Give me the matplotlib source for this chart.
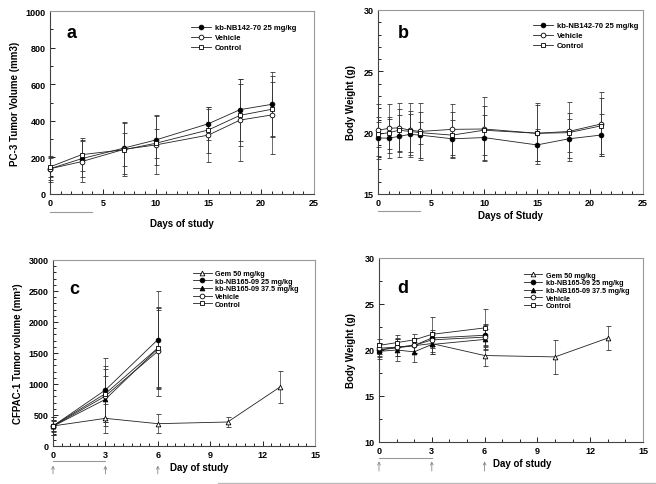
"""Tumor volume and body weight panels (a-d)"""
import matplotlib
matplotlib.use('Agg')
import matplotlib.pyplot as plt
import matplotlib.transforms as mtransforms
from matplotlib.lines import Line2D
from matplotlib.ticker import MultipleLocator

plt.rcParams['font.family'] = ['Liberation Sans', 'DejaVu Sans']
plt.rcParams['font.weight'] = 'bold'

"Panel a - PC-3 tumor volume"
days_a = [0, 3, 7, 10, 15, 18, 21]
a_drug = [138, 193, 251, 295, 384, 461, 490]
a_drug_err = [60, 100, 140, 135, 90, 170, 175]
a_veh = [138, 177, 244, 268, 322, 404, 432]
a_veh_err = [70, 110, 145, 160, 145, 225, 215]
a_ctrl = [148, 215, 242, 277, 350, 430, 463]
a_ctrl_err = [55, 90, 90, 80, 125, 170, 150]

"Panel b - body weight"
days_b = [0, 1, 2, 3, 4, 7, 10, 15, 18, 21]
b_drug = [19.57, 19.55, 19.7, 19.86, 19.8, 19.5, 19.6, 19.0, 19.5, 19.8]
b_drug_err = [1.7, 1.6, 1.7, 1.7, 1.9, 1.5, 1.8, 1.3, 1.6, 1.7]
b_veh = [20.2, 20.35, 20.4, 20.2, 20.1, 20.27, 20.3, 19.95, 20.1, 20.7]
b_veh_err = [2.1, 2.0, 2.0, 2.2, 2.3, 2.1, 2.6, 2.3, 2.4, 2.6]
b_ctrl = [19.86, 20.0, 20.2, 20.1, 20.0, 19.8, 20.2, 19.95, 20.0, 20.55]
b_ctrl_err = [1.0, 1.3, 1.7, 1.7, 0.9, 1.9, 2.0, 2.5, 1.6, 2.3]

"Panel c - CFPAC-1 tumor volume"
days_gem = [0, 3, 6, 10, 13]
c_gem = [323, 446, 360, 387, 952]
c_gem_err = [150, 230, 150, 85, 265]
days_c = [0, 3, 6]
c_25 = [323, 903, 1715]
c_25_err = [150, 520, 790]
c_375 = [318, 753, 1570]
c_375_err = [80, 370, 620]
c_veh = [320, 806, 1527]
c_veh_err = [100, 480, 720]
c_ctrl = [325, 844, 1580]
c_ctrl_err = [90, 400, 650]

"Panel d - body weight"
d_gem = [20.0, 20.7, 19.4, 19.25, 21.3]
d_gem_err = [0.7, 1.1, 1.1, 1.85, 1.3]
days_d = [0, 1, 2, 3, 6]
d_25 = [20.0, 20.3, 20.5, 21.3, 21.6]
d_25_err = [0.8, 1.0, 0.8, 0.9, 1.2]
d_375 = [19.85, 20.0, 19.8, 20.6, 21.15]
d_375_err = [0.8, 1.2, 1.1, 1.0, 1.1]
d_veh = [20.2, 20.3, 20.5, 21.1, 21.4]
d_veh_err = [0.6, 0.9, 0.8, 0.9, 1.3]
d_ctrl = [20.5, 20.8, 21.1, 21.7, 22.4]
d_ctrl_err = [0.7, 0.8, 0.6, 1.9, 2.1]

labels_ab = ['kb-NB142-70 25 mg/kg', 'Vehicle', 'Control']
labels_cd = ['Gem 50 mg/kg', 'kb-NB165-09 25 mg/kg', 'kb-NB165-09 37.5 mg/kg', 'Vehicle', 'Control']

W, H = 656, 485
fig = plt.figure(figsize=(W / 100, H / 100), dpi=100)


def make_ax(left, right, top, bottom):
    return fig.add_axes([left / W, 1 - bottom / H, (right - left) / W, (bottom - top) / H])


def mstyle(marker, filled):
    return dict(color='#222222', lw=0.6, marker=marker, ms=3.4 if marker != 's' else 3.2,
                mfc='black' if filled else 'white', mec='black', mew=0.6)


def series(ax, x, y, e, marker, filled, handles, label):
    ax.errorbar(x, y, yerr=e, elinewidth=0.5, capsize=1.8, capthick=0.5, ecolor='#333333',
                clip_on=False, zorder=3, **mstyle(marker, filled))
    handles.append(Line2D([], [], label=label, **mstyle(marker, filled)))


def style(ax, xmax, xmaj, xmin, ylo, yhi, ymaj, ymin):
    ax.set_xlim(0, xmax)
    ax.set_ylim(ylo, yhi)
    ax.xaxis.set_major_locator(MultipleLocator(xmaj))
    ax.xaxis.set_minor_locator(MultipleLocator(xmin))
    ax.yaxis.set_major_locator(MultipleLocator(ymaj))
    ax.yaxis.set_minor_locator(MultipleLocator(ymin))
    ax.tick_params(which='both', direction='in', labelsize=6.5, width=0.6, pad=3)
    ax.tick_params(which='major', length=3.5)
    ax.tick_params(which='minor', length=2)
    for t in ax.get_xticklabels() + ax.get_yticklabels():
        t.set_fontweight('bold')
    for s in ['left', 'bottom']:
        ax.spines[s].set_color('#444444')
        ax.spines[s].set_linewidth(0.8)
    for s in ['top', 'right']:
        ax.spines[s].set_color('#999999')
        ax.spines[s].set_linewidth(0.8)


def under_line(ax, x0, x1, yfrac):
    tr = mtransforms.blended_transform_factory(ax.transData, ax.transAxes)
    ax.plot([x0, x1], [yfrac, yfrac], transform=tr, color='#999999', lw=0.8, clip_on=False)


def arrows(ax, xs, y0, y1):
    tr = mtransforms.blended_transform_factory(ax.transData, ax.transAxes)
    for x in xs:
        ax.annotate('', xy=(x, y1), xytext=(x, y0), xycoords=tr, textcoords=tr,
                    arrowprops=dict(arrowstyle='->', lw=0.6, color='#888888',
                                    shrinkA=0, shrinkB=0, mutation_scale=5))


# ---------------- a ----------------
ax = make_ax(50, 314, 12, 195)
h = []
series(ax, days_a, a_drug, a_drug_err, 'o', True, h, labels_ab[0])
series(ax, days_a, a_veh, a_veh_err, 'o', False, h, labels_ab[1])
series(ax, days_a, a_ctrl, a_ctrl_err, 's', False, h, labels_ab[2])
style(ax, 25, 5, 1, 0, 1000, 200, 100)
ax.set_ylabel('PC-3 Tumor Volume (mm3)', fontsize=7, fontweight='bold', labelpad=4)
ax.set_xlabel('Days of study', fontsize=7, fontweight='bold', labelpad=8)
ax.text(0.083, 0.885, 'a', transform=ax.transAxes, fontsize=13, fontweight='bold', va='center', ha='center')
ax.legend(handles=h, loc='upper left', bbox_to_anchor=(0.52, 0.95), frameon=False,
          handlelength=2.6, labelspacing=0.35, borderpad=0, handletextpad=0.5,
          prop={'weight': 'bold', 'size': 5.5})
under_line(ax, 0, 4, -0.098)

# ---------------- b ----------------
ax = make_ax(378, 643, 11, 195)
h = []
series(ax, days_b, b_drug, b_drug_err, 'o', True, h, labels_ab[0])
series(ax, days_b, b_veh, b_veh_err, 'o', False, h, labels_ab[1])
series(ax, days_b, b_ctrl, b_ctrl_err, 's', False, h, labels_ab[2])
style(ax, 25, 5, 1, 15, 30, 5, 1)
ax.set_ylabel('Body Weight (g)', fontsize=7, fontweight='bold', labelpad=6)
ax.set_xlabel('Days of Study', fontsize=7, fontweight='bold', labelpad=2)
ax.text(0.094, 0.88, 'b', transform=ax.transAxes, fontsize=13, fontweight='bold', va='center', ha='center')
ax.legend(handles=h, loc='upper left', bbox_to_anchor=(0.57, 0.955), frameon=False,
          handlelength=2.6, labelspacing=0.35, borderpad=0, handletextpad=0.5,
          prop={'weight': 'bold', 'size': 5.5})
under_line(ax, 0, 4, -0.092)

# ---------------- c ----------------
ax = make_ax(53, 315, 261, 447)
h = []
series(ax, days_gem, c_gem, c_gem_err, '^', False, h, labels_cd[0])
series(ax, days_c, c_25, c_25_err, 'o', True, h, labels_cd[1])
series(ax, days_c, c_375, c_375_err, '^', True, h, labels_cd[2])
series(ax, days_c, c_veh, c_veh_err, 'o', False, h, labels_cd[3])
series(ax, days_c, c_ctrl, c_ctrl_err, 's', False, h, labels_cd[4])
style(ax, 15, 3, 0.5, 0, 3000, 500, 100)
ax.set_ylabel('CFPAC-1 Tumor volume (mm³)', fontsize=7, fontweight='bold', labelpad=4)
ax.text(0.08, 0.845, 'c', transform=ax.transAxes, fontsize=13, fontweight='bold', va='center', ha='center')
ax.legend(handles=h, loc='upper left', bbox_to_anchor=(0.52, 0.965), frameon=False,
          handlelength=2.6, labelspacing=0.08, borderpad=0, handletextpad=0.5,
          prop={'weight': 'bold', 'size': 5.2})
under_line(ax, 0, 3, -0.079)
arrows(ax, [0, 3, 6], -0.15, -0.105)
ax.text(6.7, -0.113, 'Day of study', transform=mtransforms.blended_transform_factory(ax.transData, ax.transAxes),
        fontsize=7, fontweight='bold', va='center', ha='left')

# ---------------- d ----------------
ax = make_ax(379, 643, 259, 443)
h = []
series(ax, days_gem, d_gem, d_gem_err, '^', False, h, labels_cd[0])
series(ax, days_d, d_25, d_25_err, 'o', True, h, labels_cd[1])
series(ax, days_d, d_375, d_375_err, '^', True, h, labels_cd[2])
series(ax, days_d, d_veh, d_veh_err, 'o', False, h, labels_cd[3])
series(ax, days_d, d_ctrl, d_ctrl_err, 's', False, h, labels_cd[4])
style(ax, 15, 3, 1, 10, 30, 5, 2.5)
ax.set_ylabel('Body Weight (g)', fontsize=7, fontweight='bold', labelpad=6)
ax.text(0.09, 0.84, 'd', transform=ax.transAxes, fontsize=13, fontweight='bold', va='center', ha='center')
ax.legend(handles=h, loc='upper left', bbox_to_anchor=(0.534, 0.945), frameon=False,
          handlelength=2.6, labelspacing=0.08, borderpad=0, handletextpad=0.5,
          prop={'weight': 'bold', 'size': 5.2})
under_line(ax, 0, 3, -0.087)
arrows(ax, [0, 3, 6], -0.158, -0.105)
ax.text(6.48, -0.114, 'Day of study', transform=mtransforms.blended_transform_factory(ax.transData, ax.transAxes),
        fontsize=7, fontweight='bold', va='center', ha='left')

# grey rule at the bottom of the figure
fig.add_artist(plt.Line2D([218 / W, 1], [1 - 484 / H, 1 - 484 / H], color='#bbbbbb', lw=1))

fig.savefig('out.png', dpi=100)
